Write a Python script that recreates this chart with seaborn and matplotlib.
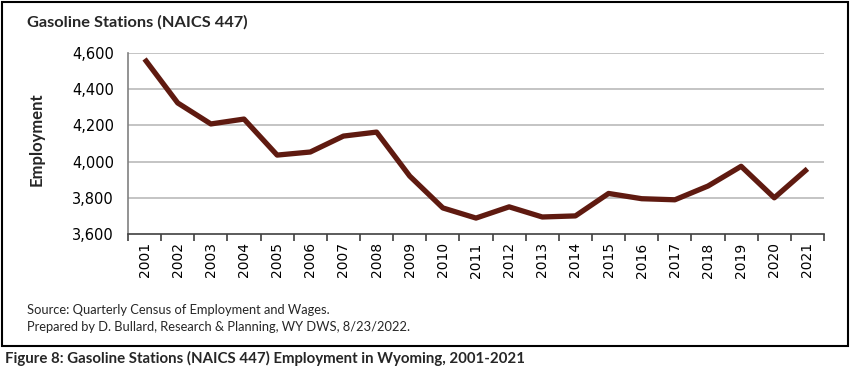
import seaborn as sns
import matplotlib.pyplot as plt
import matplotlib.patches as patches
from matplotlib.ticker import FuncFormatter, FixedLocator
import pandas as pd

## Data ##
years = [str(y) for y in range(2001, 2022)]
employment = [4567, 4324, 4208, 4235, 4036, 4053, 4141, 4163, 3920, 3744,
              3688, 3750, 3694, 3700, 3824, 3795, 3789, 3865, 3974, 3800, 3960]
y_ticks = [3600, 3800, 4000, 4200, 4400, 4600]

df = pd.DataFrame({'Year': years, 'Employment': employment})

## Style ##
sns.set_theme(style='white')
plt.rcParams['font.family'] = ['DejaVu Sans']
line_color = '#5F1A10'
grid_color = '#BFBFBF'
label_font = ['Lato', 'DejaVu Sans']

fig = plt.figure(figsize=(8.5, 3.75), dpi=100)
ax = fig.add_axes([128/850, 1-234/375, (824-128)/850, (234-53)/375])

sns.lineplot(data=df, x='Year', y='Employment', ax=ax, color=line_color,
             linewidth=3.8, sort=False, solid_capstyle='butt', zorder=3)

ax.set_ylim(3600, 4600)
ax.set_xlim(-0.5, len(years) - 0.5)
ax.yaxis.set_major_locator(FixedLocator(y_ticks))
ax.yaxis.set_major_formatter(FuncFormatter(lambda v, p: f'{int(v):,}'))
for t in y_ticks[1:]:
    ax.axhline(t, color=grid_color, linewidth=1.3, zorder=1)

ax.set_xticks(range(len(years)))
ax.set_xticklabels(years, rotation=90)
ax.set_xticks([i - 0.5 for i in range(len(years) + 1)], minor=True)
ax.tick_params(axis='x', which='major', length=0, pad=6, labelsize=10, colors='black')
ax.tick_params(axis='x', which='minor', length=5, width=1.2, color='#404040', direction='out', bottom=True)
ax.tick_params(axis='y', length=0, pad=10, labelsize=10.5, colors='black')

for s in ['top', 'right']:
    ax.spines[s].set_visible(False)
ax.spines['left'].set_color('#808080')
ax.spines['left'].set_linewidth(1.2)
ax.spines['bottom'].set_color('#404040')
ax.spines['bottom'].set_linewidth(1.2)

ax.set_xlabel('')
ax.set_ylabel('')
fig.text(37/850, 1-139/375, 'Employment', rotation=90, ha='center', va='center',
         fontsize=12, fontweight='bold', family=label_font)

## Titles and notes ##
fig.text(27/850, 1-22/375, 'Gasoline Stations (NAICS 447)', ha='left', va='center',
         fontsize=11.8, fontweight='bold', family=label_font)
fig.text(27/850, 1-310/375, 'Source: Quarterly Census of Employment and Wages.',
         ha='left', va='center', fontsize=9.3, family=label_font)
fig.text(27/850, 1-327/375, 'Prepared by D. Bullard, Research & Planning, WY DWS, 8/23/2022.',
         ha='left', va='center', fontsize=9.3, family=label_font)
fig.text(5/850, 1-358/375, 'Figure 8: Gasoline Stations (NAICS 447) Employment in Wyoming, 2001-2021',
         ha='left', va='center', fontsize=10.8, fontweight='bold', family=label_font)

# outer border
fig.patches.append(patches.Rectangle((1.5/850, 1-346/375), 846/850, 344.5/375,
                                     transform=fig.transFigure, fill=False,
                                     edgecolor='black', linewidth=1.5))

plt.savefig('out.png', dpi=100)
